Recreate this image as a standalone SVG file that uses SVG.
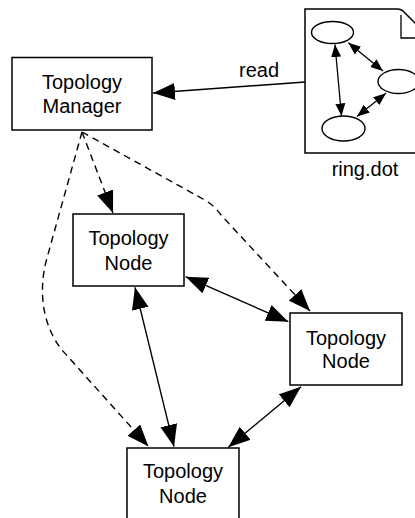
<svg xmlns="http://www.w3.org/2000/svg" width="415" height="518" viewBox="0 0 415 518">
<style>
.box{fill:#fff;stroke:#000;stroke-width:1.5}
.lbl{font-family:"Liberation Sans",Arial,sans-serif;font-size:20px;fill:#000;text-anchor:middle}
.ln{fill:none;stroke:#000;stroke-width:1.4}
.dash{stroke-dasharray:7,5}
.sm{fill:none;stroke:#000;stroke-width:1.3}
.ell{fill:#fff;stroke:#000;stroke-width:1.4}
</style>
<defs>
<marker id="ah" markerUnits="userSpaceOnUse" markerWidth="24" markerHeight="18" viewBox="0 0 24 18" refX="22" refY="9" orient="auto-start-reverse">
<path d="M0,0.5 L22,9 L0,17.5 z" fill="#000"/>
</marker>
<marker id="sa" markerUnits="userSpaceOnUse" markerWidth="14" markerHeight="11" viewBox="0 0 14 11" refX="12.5" refY="5.5" orient="auto-start-reverse">
<path d="M0,0.5 L12.5,5.5 L0,10.5 z" fill="#000"/>
</marker>
</defs>

<g id="ring-dot">
<path class="box" d="M305,9 H397 Q402,9 405,13 L432,40 V153 H305 Z"/>
<path class="sm" d="M401,15 V38 H432"/>
<ellipse class="ell" cx="332.5" cy="32.5" rx="21" ry="11"/>
<ellipse class="ell" cx="398.5" cy="81.5" rx="20.5" ry="12"/>
<ellipse class="ell" cx="343.5" cy="128.5" rx="21.5" ry="12.5"/>
<line class="sm" x1="348.3" y1="42.7" x2="383" y2="71" marker-start="url(#sa)" marker-end="url(#sa)"/>
<line class="sm" x1="335" y1="44.5" x2="341.5" y2="116" marker-start="url(#sa)" marker-end="url(#sa)"/>
<line class="sm" x1="386" y1="93.3" x2="357" y2="116.5" marker-start="url(#sa)" marker-end="url(#sa)"/>
<text class="lbl" x="365" y="176">ring.dot</text>
</g>

<g id="topology-manager">
<rect class="box" x="12" y="57.5" width="140" height="72.5"/>
<text class="lbl" x="82" y="88.5">Topology</text>
<text class="lbl" x="82" y="112.5">Manager</text>
</g>

<g id="node-1">
<rect class="box" x="73" y="214" width="111" height="72"/>
<text class="lbl" x="128.5" y="245">Topology</text>
<text class="lbl" x="128.5" y="270">Node</text>
</g>

<g id="node-2">
<rect class="box" x="290" y="313" width="112" height="72"/>
<text class="lbl" x="346" y="345">Topology</text>
<text class="lbl" x="346" y="368">Node</text>
</g>

<g id="node-3">
<rect class="box" x="127" y="448" width="112" height="80"/>
<text class="lbl" x="183" y="478">Topology</text>
<text class="lbl" x="183" y="503">Node</text>
</g>

<g id="connectors">
<line class="ln" x1="305" y1="82" x2="153" y2="93" marker-end="url(#ah)"/>
<text class="lbl" x="259" y="77">read</text>
<line class="ln dash" x1="82" y1="132" x2="113" y2="213" marker-end="url(#ah)"/>
<path class="ln dash" d="M82,132 L203,199 Q214,205 221,215 L310,311" marker-end="url(#ah)"/>
<path class="ln dash" d="M82,132 L47,258 C38,290 42,325 62,350 L148.5,446.5" marker-end="url(#ah)"/>
<line class="ln" x1="185.7" y1="276.7" x2="288.3" y2="321.7" marker-start="url(#ah)" marker-end="url(#ah)"/>
<line class="ln" x1="135" y1="287.3" x2="174" y2="446.7" marker-start="url(#ah)" marker-end="url(#ah)"/>
<line class="ln" x1="301" y1="386.7" x2="228.3" y2="447.3" marker-start="url(#ah)" marker-end="url(#ah)"/>
</g>
</svg>
